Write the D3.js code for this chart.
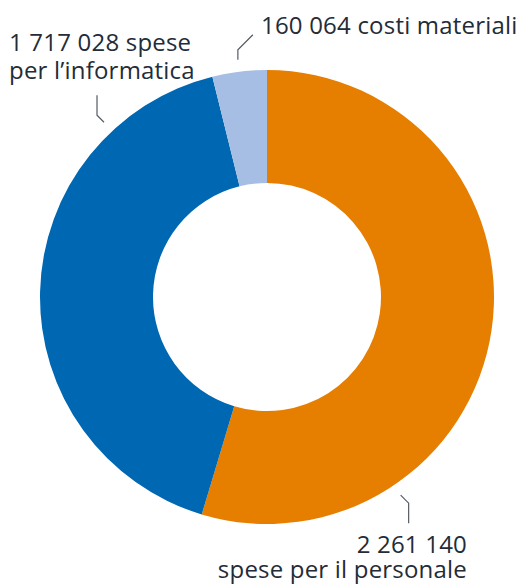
<!DOCTYPE html>
<html>
<head>
<meta charset="utf-8">
<script src="https://cdn.jsdelivr.net/npm/d3@7"></script>
<style>
  body { margin: 0; background: #fff; }
  svg text { font-family: "Open Sans", "Noto Sans", sans-serif; fill: #232c38; letter-spacing: 0.2px; }
</style>
</head>
<body>
<div id="chart"></div>
<script>
// Data
const categories = ['spese per il personale', 'spese per l\u2019informatica', 'costi materiali'];
const values = [2261140, 1717028, 160064];
const colors = ['#e67e00', '#0067b2', '#a6bee3'];
const valueLabels = ['2 261 140', '1 717 028', '160 064'];

const width = 523, height = 584;
const cx = 267, cy = 297;
const outerR = 227, innerR = 114;

const svg = d3.select('#chart').append('svg')
    .attr('width', width)
    .attr('height', height);

const chart = svg.append('g')
    .attr('transform', `translate(${cx},${cy})`);

const pie = d3.pie().sort(null).value(d => d);
const arc = d3.arc().innerRadius(innerR).outerRadius(outerR);

chart.selectAll('path')
    .data(pie(values))
    .join('path')
    .attr('d', arc)
    .attr('fill', (d, i) => colors[i]);

// leader lines: angle (deg, clockwise from top) where the line starts, then relative steps
const leaders = [
    { angle: 146, steps: [[8, 8], [0, 20]] },
    { angle: 317, steps: [[-7, -7], [0, -20]] },
    { angle: 353, steps: [[0, -10], [15, -15]] }
];
const leaderR = outerR + 12;

leaders.forEach(l => {
    const a = l.angle * Math.PI / 180;
    let x = leaderR * Math.sin(a), y = -leaderR * Math.cos(a);
    const pts = [[x, y]];
    l.steps.forEach(s => { x += s[0]; y += s[1]; pts.push([x, y]); });
    chart.append('path')
        .attr('d', d3.line()(pts))
        .attr('fill', 'none')
        .attr('stroke', '#555b63')
        .attr('stroke-width', 1.2);
});

// labels
const fs = 24;
svg.append('text')
    .attr('x', 261).attr('y', 34)
    .style('font-size', fs + 'px')
    .text(`${valueLabels[2]} ${categories[2]}`);

const t1 = svg.append('text').style('font-size', fs + 'px');
t1.append('tspan').attr('x', 9).attr('y', 51).text(`${valueLabels[1]} spese`);
t1.append('tspan').attr('x', 9).attr('y', 79).text('per l\u2019informatica');

const t0 = svg.append('text').style('font-size', fs + 'px').attr('text-anchor', 'end');
t0.append('tspan').attr('x', 467).attr('y', 553).text(valueLabels[0]);
t0.append('tspan').attr('x', 467).attr('y', 578).text(categories[0]);
</script>
</body>
</html>
